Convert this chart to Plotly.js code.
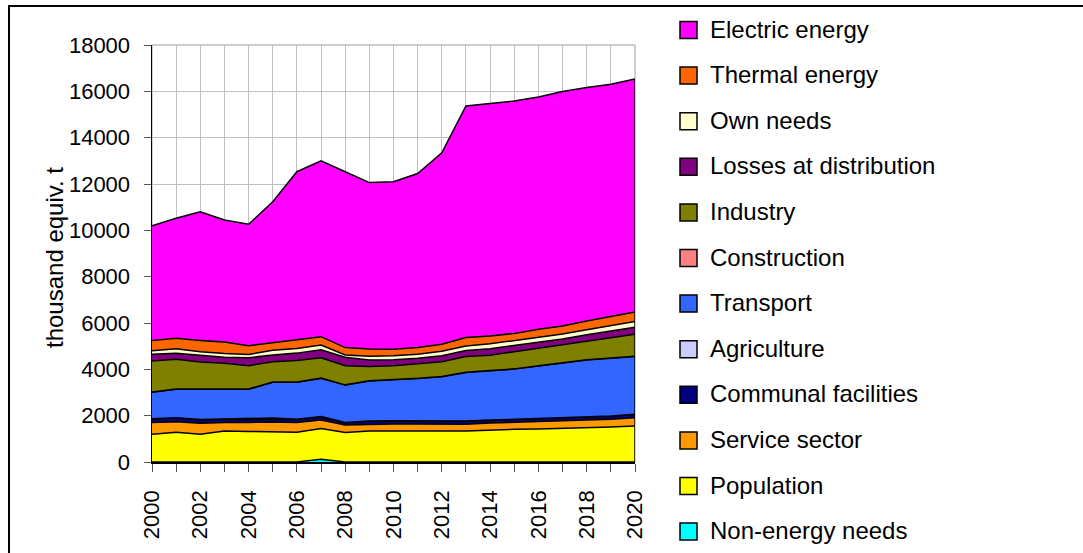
<!DOCTYPE html>
<html><head><meta charset="utf-8">
<script src="https://cdn.plot.ly/plotly-3.0.1.min.js"></script>
<style>
html,body{margin:0;padding:0;background:#fff;overflow:hidden;width:1083px;height:553px}
#chart{position:absolute;left:0;top:0;width:1083px;height:553px}
#frame{position:absolute;left:8px;top:5px;width:1100px;height:600px;border-left:2px solid #000;border-top:2px solid #000;pointer-events:none}
</style></head><body>
<div id="chart"></div><div id="frame"></div>
<script>
// ---- data (thousand equiv. t) ----
const years = [2000,2001,2002,2003,2004,2005,2006,2007,2008,2009,2010,2011,2012,2013,2014,2015,2016,2017,2018,2019,2020];
const nonEnergy    = [0,0,0,0,0,0,0,120,0,0,0,0,0,0,0,0,0,0,0,0,0];
const population   = [1200,1280,1200,1340,1320,1300,1280,1330,1270,1340,1350,1350,1340,1340,1380,1410,1420,1440,1480,1510,1550];
const service      = [500,460,470,370,390,430,430,360,330,290,290,290,300,290,300,320,330,340,330,340,360];
const communal     = [155,155,145,135,120,130,125,135,95,125,125,125,125,125,115,105,105,115,115,125,135];
const agriculture  = [15,15,15,15,50,40,15,15,15,15,15,15,15,15,15,15,15,15,15,15,15];
const transport    = [1140,1230,1310,1290,1260,1540,1590,1650,1610,1730,1760,1820,1900,2090,2130,2160,2270,2350,2460,2490,2490];
const construction = [10,10,10,10,10,10,10,10,10,10,10,10,10,10,10,10,10,10,10,10,10];
const industry     = [1340,1280,1170,1100,1010,880,930,880,830,610,610,620,640,680,660,740,760,780,790,880,950];
const losses       = [290,260,290,260,340,290,320,340,360,280,250,250,260,260,280,260,260,260,290,290,310];
const ownNeeds     = [150,200,150,160,140,200,200,210,100,170,180,170,190,200,210,220,230,220,220,240,240];
const thermal      = [440,450,490,500,380,330,400,360,320,310,280,290,300,360,340,310,330,340,380,370,420];
const electric     = [4960,5180,5550,5270,5240,6080,7230,7590,7590,7180,7230,7510,8270,10000,10040,10030,10030,10120,10080,10040,10050];

// stacking order, bottom to top
const seriesNames  = ["Non-energy needs","Population","Service sector","Communal facilities","Agriculture","Transport","Construction","Industry","Losses at distribution","Own needs","Thermal energy","Electric energy"];
const seriesValues = [nonEnergy,population,service,communal,agriculture,transport,construction,industry,losses,ownNeeds,thermal,electric];
const seriesColors = ["#00FFFF","#FFFF00","#FF9900","#000080","#CCCCFF","#3366FF","#FF8080","#808000","#800080","#FFFFCC","#FF6600","#FF00FF"];

const FONT = '"Liberation Sans", Arial, sans-serif';

const traces = seriesNames.map((n,i)=>({
  type:'scatter', mode:'lines', name:n, x:years, y:seriesValues[i],
  stackgroup:'one', fill:'tonexty', fillcolor:seriesColors[i],
  line:{color:'#000', width:1.5, shape:'linear'}, showlegend:false, hoverinfo:'skip'
}));

// geometry helpers (pixel -> paper)
const L=152, R=448, T=45, B=91, W=1083, H=553;
const pw = W-L-R, ph = H-T-B;
const px = v => (v-L)/pw;
const py = v => (H-B-v)/ph;

const totals = years.map((_,j)=>seriesValues.reduce((s,a)=>s+a[j],0));

const shapes = [
  {type:'rect', xref:'paper', yref:'paper', x0:0, x1:1, y0:0, y1:1, line:{color:'#a0a0a0', width:1}, layer:'below'},
  {type:'line', xref:'x', yref:'y', x0:years[years.length-1], x1:years[years.length-1], y0:0, y1:totals[totals.length-1], line:{color:'#000', width:1.5}}
];
const annotations = [
  {xref:'paper', yref:'paper', x:px(54), y:py(258), text:'thousand equiv. t', textangle:-90, showarrow:false,
   xanchor:'center', yanchor:'middle', font:{family:FONT, size:24, color:'#000'}}
];
// manual legend, top to bottom = reversed stack order
const legendOrder = seriesNames.map((_,i)=>i).reverse();
legendOrder.forEach((idx,k)=>{
  const cy = 30 + k*45.6;
  shapes.push({type:'rect', xref:'paper', yref:'paper', x0:px(680), x1:px(697), y0:py(cy+8.5), y1:py(cy-8.5),
    fillcolor:seriesColors[idx], line:{color:'#000', width:1.5}});
  annotations.push({xref:'paper', yref:'paper', x:px(708), y:py(cy-1), text:seriesNames[idx], showarrow:false,
    xanchor:'left', yanchor:'middle', font:{family:FONT, size:24, color:'#000'}});
});

const layout = {
  width:W, height:H, margin:{l:L, r:R, t:T, b:B, pad:0},
  paper_bgcolor:'#fff', plot_bgcolor:'#fff', showlegend:false,
  font:{family:FONT, color:'#000'},
  xaxis:{range:[2000,2020], tick0:2000, dtick:2, tickangle:-90, ticks:'outside', ticklen:8, tickcolor:'#555',
    showline:true, linecolor:'#000', linewidth:1.5, showgrid:true, gridcolor:'#c0c0c0', gridwidth:1, zeroline:false,
    tickfont:{family:FONT, size:22, color:'#000'}, ticklabelstandoff:10,
    minor:{tick0:2000, dtick:1, ticks:'outside', ticklen:8, tickcolor:'#555', showgrid:true, gridcolor:'#c0c0c0', gridwidth:1}},
  yaxis:{range:[0,18000], dtick:2000, tickformat:'d', ticks:'outside', ticklen:7, tickcolor:'#555',
    showline:true, linecolor:'#000', linewidth:1.5, showgrid:true, gridcolor:'#c0c0c0', gridwidth:1, zeroline:false,
    tickfont:{family:FONT, size:22, color:'#000'}, ticklabelstandoff:9},
  shapes:shapes, annotations:annotations
};
Plotly.newPlot('chart', traces, layout, {displayModeBar:false, staticPlot:true});
</script>
</body></html>
